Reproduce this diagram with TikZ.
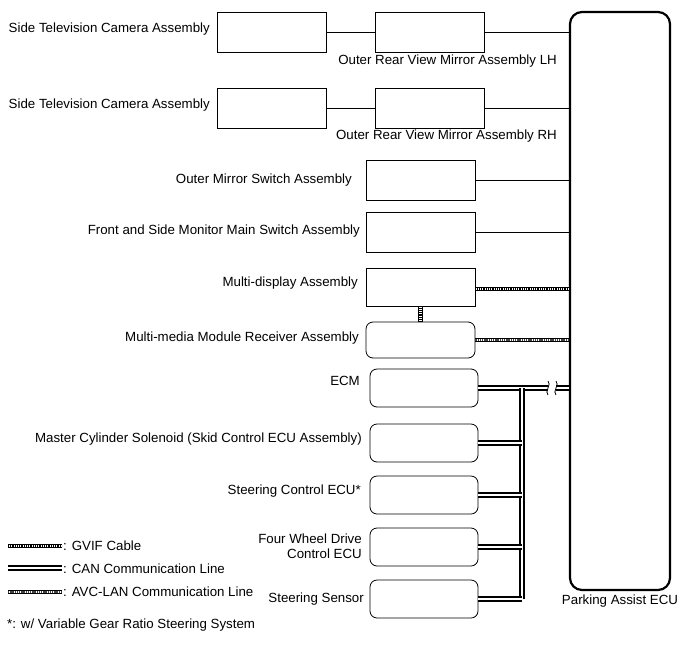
\documentclass[tikz,border=0pt]{standalone}
\usepackage{fontspec}
\setmainfont{Liberation Sans}
\begin{document}
\begin{tikzpicture}[x=1pt,y=-1pt,font=\fontsize{13.3}{15.5}\selectfont,
 bx/.style={draw,line width=0.8pt,minimum width=109pt,minimum height=40pt,inner sep=0pt},
 rbx/.style={bx,rounded corners=7pt,minimum width=108pt,minimum height=38pt},
 lb/.style={anchor=east,inner sep=0pt},
 thin/.style={line width=0.5pt},
 gvif/.style={draw=black,line width=4.5pt,postaction={draw=white,line width=2.7pt},postaction={draw=black,line width=2.7pt,dash pattern=on 0.7pt off 1.1pt}},
 avc/.style={draw=black,line width=4.5pt,postaction={draw=white,line width=2.9pt},postaction={draw=black!75,line width=2.9pt,dash pattern=on 1.3pt off 0.9pt}},
 can/.style={draw=black,double=white,double distance=1.1pt,line width=2.2pt}]
\useasboundingbox (0,0) rectangle (690,659);
\node[draw,line width=2.2pt,rounded corners=12pt,minimum width=100pt,minimum height=578pt,inner sep=0pt] (ecu) at (620,301) {};
\node[anchor=north,inner sep=0pt] (ecul) at (620,595) {Parking Assist ECU};
% row 1
\node[bx] (cam1) at (271.5,32) {};
\node[bx] (mir1) at (429.5,32) {};
\node[lb] (cam1l) at (210,29) {Side Television Camera Assembly};
\node[anchor=east,inner sep=0pt] (mir1l) at (557,61) {Outer Rear View Mirror Assembly LH};
\draw[thin] (cam1) -- (mir1); \draw[thin] (mir1) -- (mir1 -| ecu.west);
% row 2
\node[bx] (cam2) at (271.5,108) {};
\node[bx] (mir2) at (429.5,108) {};
\node[lb] (cam2l) at (210,105) {Side Television Camera Assembly};
\node[anchor=east,inner sep=0pt] (mir2l) at (557,136) {Outer Rear View Mirror Assembly RH};
\draw[thin] (cam2) -- (mir2); \draw[thin] (mir2) -- (mir2 -| ecu.west);
% switches
\node[bx] (oms) at (420.5,180) {};
\node[lb] (omsl) at (352,180) {Outer Mirror Switch Assembly};
\draw[thin] (oms) -- (oms -| ecu.west);
\node[bx] (fsm) at (420.5,232) {};
\node[lb] (fsml) at (360,231) {Front and Side Monitor Main Switch Assembly};
\draw[thin] (fsm) -- (fsm -| ecu.west);
\node[bx,minimum height=38pt] (md) at (420.5,287) {};
\node[lb] (mdl) at (358,283) {Multi-display Assembly};
\node[rbx,minimum width=109pt,minimum height=36pt] (mm) at (420.5,340) {};
\node[lb] (mml) at (359,338) {Multi-media Module Receiver Assembly};
\draw[gvif] (md.east |- 0,289) -- (ecu.west |- 0,289);
\draw[gvif] (md.south) -- (mm.north);
\draw[avc] (mm.east) -- (mm -| ecu.west);
% CAN
\node[rbx] (ecm) at (424,388) {};
\node[lb] (ecml) at (360,381) {ECM};
\node[rbx] (mc) at (424,443) {};
\node[lb] (mcl) at (362,439) {Master Cylinder Solenoid (Skid Control ECU Assembly)};
\node[rbx] (sc) at (424,495) {};
\node[lb] (scl) at (361,491) {Steering Control ECU*};
\node[rbx] (fw) at (424,547) {};
\node[align=right,anchor=east,inner sep=0pt] (fwl) at (362,546) {Four Wheel Drive\\Control ECU};
\node[rbx] (ss) at (424,599) {};
\node[lb] (ssl) at (364,599) {Steering Sensor};
\coordinate (br1) at (548,388);
\coordinate (br2) at (556,388);
\coordinate (bus) at (522,388);
\draw[can] (ecm.east) -- (br1);
\draw[can] (br2) -- (ecm -| ecu.west);
\draw[line width=0.8pt] ([shift={(0,-7)}]br1) .. controls +(4,3) and +(-4,-3) .. ([shift={(0,7)}]br1);
\draw[line width=0.8pt] ([shift={(0,-7)}]br2) .. controls +(4,3) and +(-4,-3) .. ([shift={(0,7)}]br2);
\draw[can] (bus) -- (bus |- ss);
\draw[can] (mc.east) -- (mc -| bus);
\draw[can] (sc.east) -- (sc -| bus);
\draw[can] (fw.east) -- (fw -| bus);
\draw[can] (ss.east) -- (ss -| bus);
% legend
\coordinate (g1) at (8,546); \coordinate (g2) at (62,546);
\draw[gvif] (g1) -- (g2);
\node[anchor=west,inner sep=0pt] (gl) at (63,546) {: GVIF Cable};
\coordinate (c1) at (8,568); \coordinate (c2) at (62,568);
\draw[can] (c1) -- (c2);
\node[anchor=west,inner sep=0pt] (cl) at (63,569) {: CAN Communication Line};
\coordinate (a1) at (8,592); \coordinate (a2) at (62,592);
\draw[avc] (a1) -- (a2);
\node[anchor=west,inner sep=0pt] (al) at (63,592) {: AVC-LAN Communication Line};
\node[anchor=west,inner sep=0pt] (fn) at (7,625) {*: w/ Variable Gear Ratio Steering System};
\end{tikzpicture}
\end{document}
